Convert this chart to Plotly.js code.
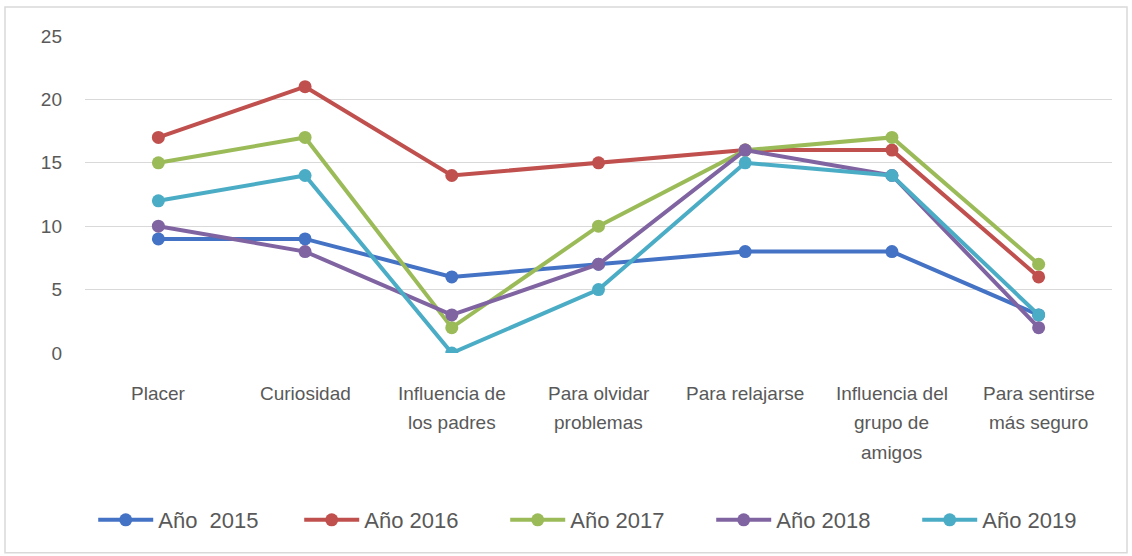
<!DOCTYPE html>
<html>
<head>
<meta charset="utf-8">
<script src="https://cdn.plot.ly/plotly-3.0.1.min.js"></script>
<style>html,body{margin:0;padding:0;background:#fff}#chart{width:1132px;height:556px}</style>
</head>
<body>
<div id="chart"></div>
<script>
const categories = ["Placer", "Curiosidad", "Influencia de<br>los padres", "Para olvidar<br>problemas", "Para relajarse", "Influencia del<br>grupo de<br>amigos", "Para sentirse<br>más seguro"];
const seriesNames = ["Año\u00a0 2015", "Año 2016", "Año 2017", "Año 2018", "Año 2019"];
const y2015 = [9, 9, 6, 7, 8, 8, 3];
const y2016 = [17, 21, 14, 15, 16, 16, 6];
const y2017 = [15, 17, 2, 10, 16, 17, 7];
const y2018 = [10, 8, 3, 7, 16, 14, 2];
const y2019 = [12, 14, 0, 5, 15, 14, 3];
const yTicks = [0, 5, 10, 15, 20, 25];

const colors = ["#4472C4", "#C0504D", "#9BBB59", "#8064A2", "#4BACC6"];
const allY = [y2015, y2016, y2017, y2018, y2019];
const FONT = "Liberation Sans, Arial, sans-serif";

const traces = allY.map((ys, i) => ({
  type: "scatter",
  mode: "lines+markers",
  x: categories,
  y: ys,
  name: seriesNames[i],
  line: {color: colors[i], width: 4},
  marker: {color: colors[i], size: 13},
  hoverinfo: "x+y+name"
}));

const annotations = [];
categories.forEach((c) => {
  c.split("<br>").forEach((line, j) => {
    annotations.push({
      x: c, xref: "x", y: 0, yref: "paper",
      text: line, showarrow: false,
      xanchor: "center", yanchor: "middle",
      yshift: -40 - 29.5 * j,
      font: {family: FONT, size: 19, color: "#595959"}
    });
  });
});

const layout = {
  width: 1132, height: 556,
  margin: {l: 85, r: 20, t: 36, b: 203, autoexpand: false},
  paper_bgcolor: "#ffffff",
  plot_bgcolor: "#ffffff",
  showlegend: true,
  xaxis: {
    type: "category",
    range: [-0.5, 6.5],
    showticklabels: false,
    showgrid: false,
    zeroline: false,
    showline: false,
    ticks: ""
  },
  yaxis: {
    range: [0, 25],
    tickvals: yTicks,
    showgrid: true,
    gridcolor: "#d9d9d9",
    gridwidth: 1.3,
    zeroline: false,
    showline: false,
    ticks: "",
    ticklabelstandoff: 22,
    tickfont: {family: FONT, size: 19, color: "#595959"}
  },
  legend: {
    orientation: "h",
    x: 0.008, xanchor: "left",
    y: -0.527, yanchor: "middle",
    itemwidth: 55,
    entrywidth: 136,
    entrywidthmode: "pixels",
    font: {family: FONT, size: 22, color: "#595959"},
    bgcolor: "rgba(0,0,0,0)"
  },
  annotations: annotations,
  shapes: [{
    type: "rect", xref: "paper", yref: "paper",
    x0: -0.0779, x1: 1.0146, y0: -0.63, y1: 1.0915,
    line: {color: "#d9d9d9", width: 1.5},
    fillcolor: "rgba(0,0,0,0)",
    layer: "below"
  }]
};

Plotly.newPlot("chart", traces, layout, {displayModeBar: false, staticPlot: true});
</script>
</body>
</html>
